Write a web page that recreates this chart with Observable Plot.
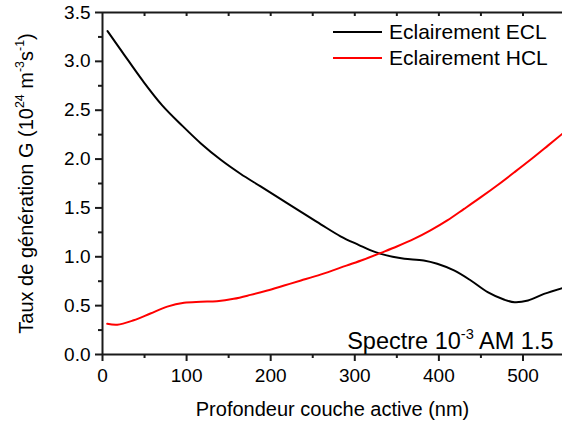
<!DOCTYPE html>
<html>
<head>
<meta charset="utf-8">
<script src="https://cdn.jsdelivr.net/npm/d3@7"></script>
<script src="https://cdn.jsdelivr.net/npm/@observablehq/plot@0.6"></script>
<style>
  html, body { margin: 0; padding: 0; background: white; }
  #wrap { position: relative; width: 562px; height: 426px; font-family: "Liberation Sans", Arial, sans-serif; }
  #chart svg { font-family: "Liberation Sans", Arial, sans-serif; font-size: 19px; color: #000; }
  #legend { position: absolute; left: 333px; top: 19px; font-size: 21px; color: #000; }
  #legend .row { display: flex; align-items: center; height: 26px; white-space: nowrap; }
  #legend .swatch { width: 49px; height: 2px; margin-right: 7px; }
</style>
</head>
<body>
<div id="wrap">
  <div id="chart"></div>
  <div id="legend"></div>
</div>
<script>
// ---- Data ----
const eclDepth = [6, 24, 48, 71, 95, 117, 141, 164, 188, 212, 236, 260, 283, 305, 319, 331, 345, 359, 382, 398, 418, 438, 458, 478, 490, 506, 525, 547];
const eclG     = [3.31, 3.09, 2.80, 2.55, 2.34, 2.16, 1.99, 1.85, 1.72, 1.59, 1.46, 1.33, 1.21, 1.12, 1.065, 1.03, 1.00, 0.98, 0.962, 0.928, 0.86, 0.757, 0.638, 0.56, 0.535, 0.553, 0.62, 0.68];
const hclDepth = [5.6, 17.5, 37, 57, 77, 97, 117, 136, 156, 176, 196, 216, 236, 260, 290, 310, 331, 350, 371, 390, 410, 430, 450, 470, 490, 510, 530, 547];
const hclG     = [0.314, 0.304, 0.35, 0.42, 0.49, 0.53, 0.54, 0.546, 0.57, 0.61, 0.655, 0.706, 0.757, 0.82, 0.91, 0.97, 1.04, 1.105, 1.185, 1.27, 1.372, 1.49, 1.61, 1.735, 1.866, 2.0, 2.14, 2.26];

const seriesNames = ["Eclairement ECL", "Eclairement HCL"];
const seriesColors = ["#000000", "#ff0000"];

const xMajorTicks = [0, 100, 200, 300, 400, 500];
const xMinorTicks = [50, 150, 250, 350, 450];
const xTopTicks = [50, 100, 150, 200, 250, 300, 350, 400, 450, 500];
const yMajorTicks = [0, 0.5, 1.0, 1.5, 2.0, 2.5, 3.0, 3.5];
const yMinorTicks = [0.25, 0.75, 1.25, 1.75, 2.25, 2.75, 3.25];

const xLabel = "Profondeur couche active (nm)";
const yLabel = "Taux de génération G (10^{24} m^{-3}s^{-1})";
const annotation = "Spectre 10^{-3} AM 1.5";

const ecl = eclDepth.map((d, i) => ({depth: d, g: eclG[i]}));
const hcl = hclDepth.map((d, i) => ({depth: d, g: hclG[i]}));

const axisColor = "#1a1a1a";
const sw = 2;

const chart = Plot.plot({
  width: 562,
  height: 426,
  marginTop: 12,
  marginRight: 0,
  marginBottom: 72,
  marginLeft: 102,
  x: {domain: [0, 547]},
  y: {domain: [0, 3.5]},
  marks: [
    // frame lines
    Plot.ruleY([0], {stroke: axisColor, strokeWidth: sw}),
    Plot.ruleY([3.5], {stroke: axisColor, strokeWidth: sw}),
    Plot.ruleX([0], {stroke: axisColor, strokeWidth: sw}),
    // axes and ticks
    Plot.axisX(xMajorTicks, {anchor: "bottom", tickSize: 7, tickPadding: 7, stroke: axisColor, strokeWidth: sw, tickFormat: d3.format("d"),
      label: xLabel, labelAnchor: "center", labelArrow: "none", labelOffset: 61}),
    Plot.axisX(xMinorTicks, {anchor: "bottom", tickSize: 4, stroke: axisColor, strokeWidth: sw, tickFormat: () => "", label: null}),
    Plot.ruleX(xTopTicks, {x: d => d, y1: 3.5, y2: 3.5, insetBottom: -4, stroke: axisColor, strokeWidth: sw}),
    Plot.axisY(yMajorTicks, {anchor: "left", tickSize: 7, tickPadding: 5, stroke: axisColor, strokeWidth: sw, tickFormat: d3.format(".1f"),
      label: yLabel, labelAnchor: "center", labelArrow: "none", labelOffset: 84}),
    Plot.axisY(yMinorTicks, {anchor: "left", tickSize: 4, stroke: axisColor, strokeWidth: sw, tickFormat: () => "", label: null}),
    // data
    Plot.line(ecl, {x: "depth", y: "g", stroke: seriesColors[0], strokeWidth: 2, curve: "catmull-rom"}),
    Plot.line(hcl, {x: "depth", y: "g", stroke: seriesColors[1], strokeWidth: 2, curve: "catmull-rom"}),
    // annotation
    Plot.text([annotation], {frameAnchor: "bottom-right", textAnchor: "end", lineAnchor: "bottom", dx: -9, dy: -6, fontSize: 23.5, fill: "#000"})
  ]
});

document.getElementById("chart").appendChild(chart);

const svg = d3.select(chart);
svg.selectAll('g[aria-label="x-axis label"] text').attr("font-size", 20);
svg.selectAll('g[aria-label="y-axis label"] text').attr("font-size", 20);

// convert ^{...} into superscript tspans
const NS = "http://www.w3.org/2000/svg";
function supify(el) {
  const s = el.textContent;
  if (!s.includes("^{")) return;
  const fs = parseFloat(getComputedStyle(el).fontSize) || 19;
  const parts = s.split(/\^\{([^}]*)\}/);
  while (el.firstChild) el.removeChild(el.firstChild);
  let shifted = false;
  parts.forEach((p, i) => {
    if (!p) return;
    const t = document.createElementNS(NS, "tspan");
    t.textContent = p;
    if (i % 2 === 1) {
      t.setAttribute("font-size", (fs * 0.62).toFixed(1));
      t.setAttribute("dy", (-fs * 0.42).toFixed(1));
      shifted = true;
    } else if (shifted) {
      t.setAttribute("dy", (fs * 0.42).toFixed(1));
      shifted = false;
    }
    el.appendChild(t);
  });
}
chart.querySelectorAll("text").forEach(supify);

// legend
const legend = d3.select("#legend");
seriesNames.forEach((name, i) => {
  const row = legend.append("div").attr("class", "row");
  row.append("span").attr("class", "swatch").style("background", seriesColors[i]);
  row.append("span").text(name);
});
</script>
</body>
</html>
